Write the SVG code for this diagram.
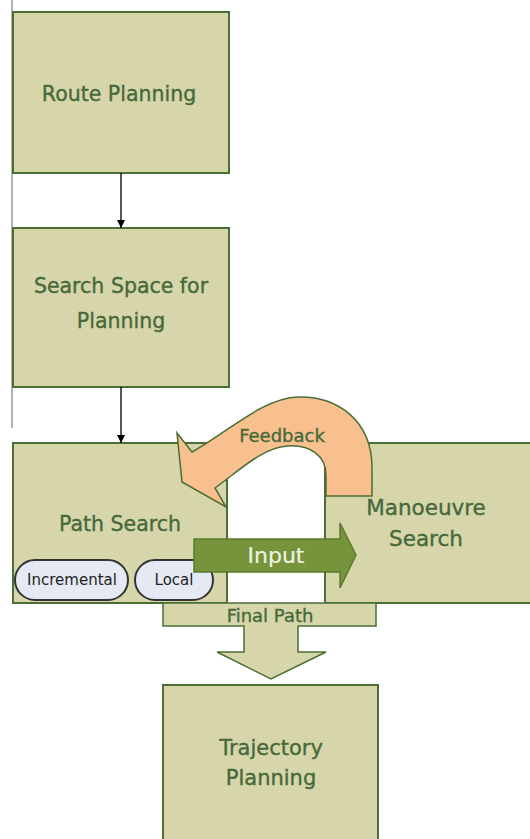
<svg xmlns="http://www.w3.org/2000/svg" width="530" height="839" viewBox="0 0 530 839">
<defs>
<style>
.box{fill:#d7d6aa;stroke:#4a6e34;stroke-width:2}
.lbl{font-family:"DejaVu Sans","Liberation Sans",Arial,sans-serif;font-size:20.5px;fill:#46693a;stroke:#46693a;stroke-width:0.35;text-anchor:middle}
.pill{fill:#e5e9f4;stroke:#333;stroke-width:2}
.pl{font-family:"DejaVu Sans","Liberation Sans",Arial,sans-serif;font-size:15px;fill:#222;text-anchor:middle}
.conn{stroke:#000;stroke-width:1.3;fill:none}
</style>
<marker id="ah" viewBox="0 0 10 10" refX="10" refY="5" markerWidth="8" markerHeight="8" markerUnits="userSpaceOnUse" orient="auto">
<path d="M0 0 L10 5 L0 10 Z" fill="#000"/>
</marker>
</defs>
<rect width="530" height="839" fill="#fff"/>
<line x1="12" y1="0" x2="12" y2="428" stroke="#666" stroke-width="1"/>
<g id="route">
<rect class="box" x="13" y="12" width="216" height="161"/>
<text class="lbl" x="119" y="101">Route Planning</text>
</g>
<g id="space">
<rect class="box" x="13" y="228" width="216" height="159"/>
<text class="lbl" x="121" y="293">Search Space for</text>
<text class="lbl" x="121" y="328">Planning</text>
</g>
<g id="manoeuvre">
<rect class="box" x="325" y="443" width="215" height="160"/>
<text class="lbl" x="426" y="515" style="font-size:21.5px">Manoeuvre</text>
<text class="lbl" x="426" y="546" style="font-size:21.5px">Search</text>
</g>
<g id="path">
<rect class="box" x="13" y="443" width="214" height="160"/>
<text class="lbl" x="120" y="531">Path Search</text>
</g>
<g id="incremental">
<rect class="pill" x="15" y="560" width="113" height="40" rx="20"/>
<text class="pl" x="72" y="585">Incremental</text>
</g>
<g id="local">
<rect class="pill" x="135" y="560" width="78" height="40" rx="20"/>
<text class="pl" x="174" y="585">Local</text>
</g>
<g id="trajectory">
<rect class="box" x="163" y="685" width="215" height="170"/>
<text class="lbl" x="271" y="755" style="font-size:21px">Trajectory</text>
<text class="lbl" x="271" y="785" style="font-size:21px">Planning</text>
</g>
<g id="connectors">
<line class="conn" x1="121" y1="173" x2="121" y2="228" marker-end="url(#ah)"/>
<line class="conn" x1="121" y1="387" x2="121" y2="443" marker-end="url(#ah)"/>
<g id="feedback">
<path d="M372 496 L372 468 C372 420 337 396 298 397 C263 398 228 432 192 452 L177 433 L182 482 L226 507 L215 488 C240 470 262 448 287 446 C310 444 326 456 326 475 L326 496 Z" fill="#f9c08f" stroke="#4a6e34" stroke-width="1.5" stroke-linejoin="miter"/>
<text class="lbl" x="282" y="442" style="font-size:18px">Feedback</text>
</g>
<g id="input">
<path d="M194 539 L340 539 L340 523 L356 555 L340 588 L340 572 L194 572 Z" fill="#77933c" stroke="#5b7a2c" stroke-width="1.5"/>
<text class="lbl" x="276" y="563" style="fill:#eef3e2;stroke:#eef3e2;stroke-width:0.2;font-size:22px">Input</text>
</g>
<g id="finalpath">
<path d="M163 603 L376 603 L376 626 L298 626 L298 652 L326 652 L271 679 L217 652 L244 652 L244 626 L163 626 Z" fill="#d7d6aa" stroke="#4a6e34" stroke-width="1.5"/>
<text class="lbl" x="270" y="622" style="font-size:18px">Final Path</text>
</g>
</g>
</svg>
